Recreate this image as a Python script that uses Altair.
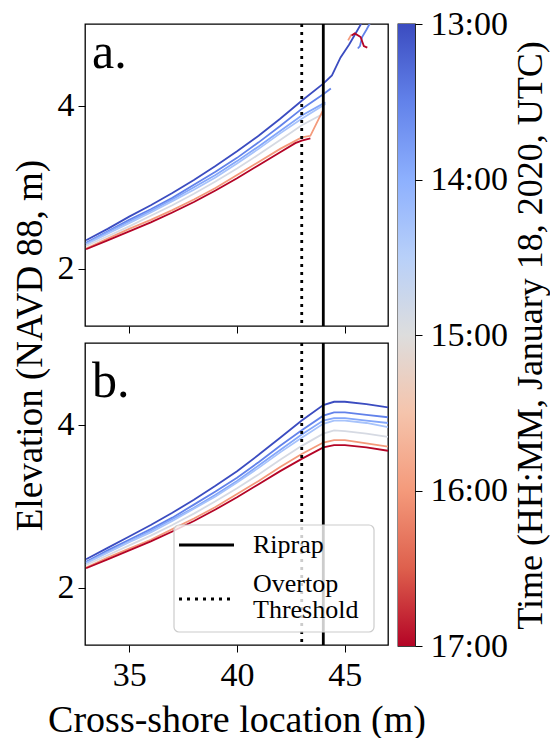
import altair as alt
import pandas as pd

FONT = "Liberation Serif"

# ---------------- data ----------------
# time of each profile (decimal hours, UTC)
T_1300 = 13.0
T_1330 = 13.5
T_1354 = 13.9
T_1418 = 14.3
T_1454 = 14.9
T_1600 = 16.0
T_1700 = 17.0

RIPRAP_X = [44.0]
OVERTOP_X = [43.0]

# ---- panel a: measured profiles ----
A_1300_X = [33, 34, 35, 36, 37, 38, 39, 40, 41, 42, 43, 44.0, 44.4, 44.8, 45.2, 45.75, 46.1]
A_1300_Y = [2.35, 2.49, 2.64, 2.78, 2.93, 3.09, 3.26, 3.44, 3.63, 3.84, 4.06, 4.27, 4.37, 4.59, 4.75, 5.0, 5.15]
A_1330_X = [33, 34, 35, 36, 37, 38, 39, 40, 41, 42, 43, 44.0, 44.35]
A_1330_Y = [2.32, 2.46, 2.60, 2.73, 2.87, 3.03, 3.19, 3.36, 3.55, 3.75, 3.96, 4.14, 4.21]
A_1330_X2 = [45.6, 45.7, 45.8, 46.0, 46.25]
A_1330_Y2 = [4.70, 4.73, 4.84, 4.93, 5.05]
A_1354_X = [33, 34, 35, 36, 37, 38, 39, 40, 41, 42, 43, 44.1]
A_1354_Y = [2.31, 2.45, 2.58, 2.71, 2.85, 3.00, 3.15, 3.32, 3.50, 3.69, 3.88, 4.04]
A_1418_X = [33, 34, 35, 36, 37, 38, 39, 40, 41, 42, 43, 44.1]
A_1418_Y = [2.30, 2.43, 2.56, 2.69, 2.83, 2.97, 3.12, 3.29, 3.47, 3.66, 3.84, 4.02]
A_1454_X = [33, 34, 35, 36, 37, 38, 39, 40, 41, 42, 43, 44.0]
A_1454_Y = [2.28, 2.40, 2.52, 2.65, 2.78, 2.92, 3.07, 3.23, 3.40, 3.58, 3.76, 3.90]
A_1600_X = [33, 34, 35, 36, 37, 38, 39, 40, 41, 42, 43, 43.4, 44.0]
A_1600_Y = [2.25, 2.37, 2.49, 2.60, 2.72, 2.85, 2.99, 3.15, 3.31, 3.47, 3.61, 3.63, 3.95]
A_1600_X2 = [45.15, 45.3]
A_1600_Y2 = [4.80, 4.87]
A_1700_X = [33, 34, 35, 36, 37, 38, 39, 40, 41, 42, 42.7, 43.0, 43.4]
A_1700_Y = [2.24, 2.35, 2.46, 2.57, 2.69, 2.82, 2.96, 3.11, 3.27, 3.43, 3.54, 3.57, 3.60]
A_1700_X2 = [45.31, 45.46, 45.73, 45.88, 46.04]
A_1700_Y2 = [4.86, 4.885, 4.84, 4.73, 4.71]

# ---- panel b: modelled profiles ----
B_X = [33, 34, 35, 36, 37, 38, 39, 40, 41, 42, 43, 44, 44.5, 45, 46, 47]
B_1300_Y = [2.35, 2.49, 2.63, 2.77, 2.92, 3.08, 3.25, 3.43, 3.63, 3.84, 4.05, 4.24, 4.28, 4.28, 4.25, 4.21]
B_1330_Y = [2.32, 2.46, 2.59, 2.72, 2.86, 3.02, 3.18, 3.35, 3.54, 3.74, 3.93, 4.11, 4.15, 4.15, 4.12, 4.09]
B_1354_Y = [2.31, 2.44, 2.57, 2.70, 2.84, 2.98, 3.14, 3.31, 3.50, 3.69, 3.88, 4.05, 4.08, 4.08, 4.05, 4.02]
B_1418_Y = [2.30, 2.43, 2.56, 2.68, 2.82, 2.97, 3.12, 3.29, 3.47, 3.66, 3.84, 4.01, 4.05, 4.05, 4.02, 3.97]
B_1454_Y = [2.28, 2.40, 2.52, 2.64, 2.77, 2.91, 3.06, 3.22, 3.39, 3.57, 3.74, 3.89, 3.93, 3.92, 3.89, 3.85]
B_1600_Y = [2.25, 2.37, 2.48, 2.59, 2.72, 2.85, 2.99, 3.15, 3.31, 3.48, 3.64, 3.78, 3.81, 3.81, 3.77, 3.73]
B_1700_Y = [2.24, 2.35, 2.46, 2.57, 2.69, 2.82, 2.96, 3.11, 3.27, 3.43, 3.58, 3.72, 3.75, 3.75, 3.72, 3.68]

# colour bar (coolwarm, 13:00 blue -> 17:00 red)
CB_DOMAIN = [13.0, 13.5, 14.0, 14.5, 15.0, 15.5, 16.0, 16.5, 17.0]
CB_RANGE = ["#3b4cc0", "#6282ea", "#8db0fe", "#b8d0f9", "#dddddd",
            "#f5c4ac", "#f49a7b", "#de604d", "#b40426"]
CB_TICKS = [13, 14, 15, 16, 17]

X_DOMAIN = [32.95, 47.0]
Y_DOMAIN = [1.3, 5.0]
X_TICKS = [35, 40, 45]
Y_TICKS = [2, 4]


def build(series):
    rows = []
    for seg_id, (t, xs, ys) in enumerate(series):
        for i, (xv, yv) in enumerate(zip(xs, ys)):
            rows.append({"x": xv, "y": yv, "time": t, "seg": seg_id, "order": i})
    return pd.DataFrame(rows)


df_a = build([
    (T_1300, A_1300_X, A_1300_Y),
    (T_1330, A_1330_X, A_1330_Y),
    (T_1330, A_1330_X2, A_1330_Y2),
    (T_1354, A_1354_X, A_1354_Y),
    (T_1418, A_1418_X, A_1418_Y),
    (T_1454, A_1454_X, A_1454_Y),
    (T_1600, A_1600_X, A_1600_Y),
    (T_1600, A_1600_X2, A_1600_Y2),
    (T_1700, A_1700_X, A_1700_Y),
    (T_1700, A_1700_X2, A_1700_Y2),
])
df_b = build([
    (T_1300, B_X, B_1300_Y),
    (T_1330, B_X, B_1330_Y),
    (T_1354, B_X, B_1354_Y),
    (T_1418, B_X, B_1418_Y),
    (T_1454, B_X, B_1454_Y),
    (T_1600, B_X, B_1600_Y),
    (T_1700, B_X, B_1700_Y),
])

W, H = 303, 302
GAP = 17
CB_GAP = 10

color_enc = alt.Color(
    "time:Q",
    scale=alt.Scale(domain=CB_DOMAIN, range=CB_RANGE, interpolate="rgb"),
    legend=None,
)


def x_enc(show_labels, title):
    return alt.X(
        "x:Q", scale=alt.Scale(domain=X_DOMAIN, nice=False, zero=False),
        axis=alt.Axis(values=X_TICKS, labels=show_labels, title=title, grid=False,
                      domain=False, tickSize=7, tickColor="black", ticks=True,
                      labelFont=FONT, labelFontSize=34, labelColor="black", labelPadding=6,
                      labelFlush=False,
                      titleFont=FONT, titleFontSize=38, titleFontWeight="normal",
                      titleColor="black", titlePadding=9),
    )


def y_enc(title):
    if title:
        kw = dict(title=title, titleX=-55, titleY=2, titleAngle=270, titleAlign="center",
                  titleBaseline="middle", titleFont=FONT, titleFontSize=37,
                  titleFontWeight="normal", titleColor="black")
    else:
        kw = dict(title=None)
    return alt.Y(
        "y:Q", scale=alt.Scale(domain=Y_DOMAIN, nice=False, zero=False),
        axis=alt.Axis(values=Y_TICKS, grid=False, domain=False, tickSize=7,
                      tickColor="black", labelFont=FONT, labelFontSize=34,
                      labelColor="black", labelPadding=4, **kw),
    )


def panel(df, show_x, label, label_y, ytitle, with_legend):
    lines = alt.Chart(df).mark_line(strokeWidth=1.8, clip=True).encode(
        x=x_enc(show_x, "Cross-shore location (m)" if show_x else None),
        y=y_enc(ytitle),
        color=color_enc,
        detail="seg:N",
        order="order:Q",
    )
    riprap = alt.Chart(pd.DataFrame({"x": RIPRAP_X})).mark_rule(
        color="black", strokeWidth=2.8).encode(x="x:Q")
    overtop = alt.Chart(pd.DataFrame({"x": OVERTOP_X})).mark_rule(
        color="black", strokeWidth=2.8, strokeDash=[3, 5]).encode(x="x:Q")
    lab = alt.Chart(pd.DataFrame({"k": [0]})).mark_text(
        font=FONT, fontSize=50, align="left", baseline="alphabetic", color="black"
    ).encode(x=alt.value(7), y=alt.value(label_y), text=alt.value(label))
    layers = [lines, riprap, overtop, lab]
    if with_legend:
        one = pd.DataFrame({"k": [0]})
        box = alt.Chart(one).mark_rect(
            fill="white", fillOpacity=0.8, stroke="#cccccc", strokeWidth=1.2, cornerRadius=5
        ).encode(x=alt.value(89), x2=alt.value(289), y=alt.value(182), y2=alt.value(289))
        s1 = alt.Chart(one).mark_rule(color="black", strokeWidth=3).encode(
            x=alt.value(94), x2=alt.value(149), y=alt.value(202))
        s2 = alt.Chart(one).mark_rule(color="black", strokeWidth=3, strokeDash=[3, 5]).encode(
            x=alt.value(94), x2=alt.value(149), y=alt.value(256))
        txt = dict(font=FONT, fontSize=26, align="left", baseline="middle", color="black")
        t1 = alt.Chart(one).mark_text(**txt).encode(
            x=alt.value(168), y=alt.value(202), text=alt.value("Riprap"))
        t2 = alt.Chart(one).mark_text(**txt).encode(
            x=alt.value(168), y=alt.value(241), text=alt.value("Overtop"))
        t3 = alt.Chart(one).mark_text(**txt).encode(
            x=alt.value(168), y=alt.value(267), text=alt.value("Threshold"))
        layers += [box, s1, s2, t1, t2, t3]
    return alt.layer(*layers).properties(width=W, height=H)


pa = panel(df_a, False, "a.", 44, None, False)
pb = panel(df_b, True, "b.", 54, "Elevation (NAVD 88, m)", True)

# colour bar: one rect spanning the time scale, filled with the colormap gradient
cb_df = pd.DataFrame({"t0": [CB_DOMAIN[0]], "t1": [CB_DOMAIN[-1]]})
span = CB_DOMAIN[-1] - CB_DOMAIN[0]
grad = alt.LinearGradient(
    gradient="linear", x1=0, x2=0, y1=0, y2=1,
    stops=[alt.GradientStop(offset=(d - CB_DOMAIN[0]) / span, color=c)
           for d, c in zip(CB_DOMAIN, CB_RANGE)],
)
cbar = alt.Chart(cb_df).mark_rect(fill=grad).encode(
    y=alt.Y("t0:Q", scale=alt.Scale(domain=[CB_DOMAIN[0], CB_DOMAIN[-1]], reverse=True,
                                     nice=False, zero=False),
            axis=alt.Axis(orient="right", values=CB_TICKS,
                          labelExpr="format(datum.value, 'd') + ':00'",
                          grid=False, domain=False, tickSize=7, tickColor="black",
                          labelFont=FONT, labelFontSize=34, labelColor="black",
                          labelPadding=8, labelFlush=False, labelOverlap=False,
                          title="Time (HH:MM, January 18, 2020, UTC)",
                          titleAngle=270, titleBaseline="top", titleFont=FONT,
                          titleFontSize=36, titleFontWeight="normal", titleColor="black",
                          titlePadding=6, titleLimit=900)),
    y2="t1:Q",
).properties(width=17, height=2 * H + GAP + 1)

left = alt.vconcat(pa, pb, spacing=GAP, bounds="flush")
# with flush bounds the nested column counts as zero width, so the spacing
# carries the panel width plus the gap to the colour bar
chart = alt.hconcat(left, cbar, spacing=W + CB_GAP, bounds="flush").properties(
    padding={"left": 10, "top": 6, "right": 0, "bottom": 0},
    background="white",
).configure_view(stroke="black", strokeWidth=1.3)

chart.save("out.html", embed_options={"renderer": "svg", "actions": False})
